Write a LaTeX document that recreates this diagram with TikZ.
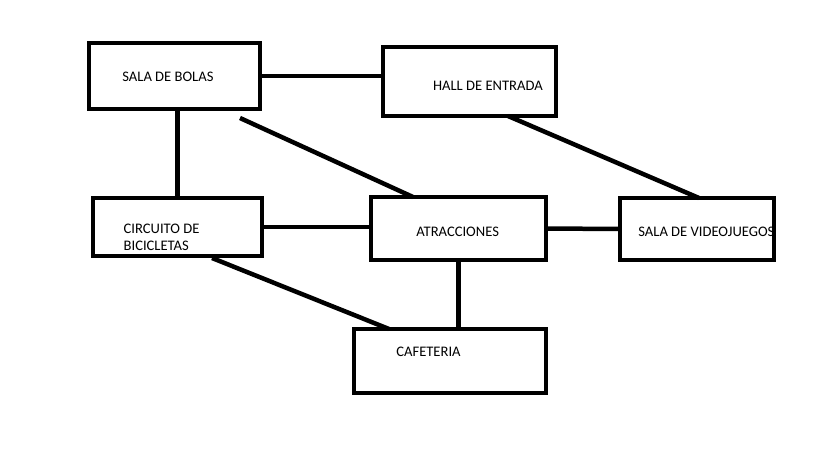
\documentclass[tikz,border=0pt]{standalone}
\usepackage{fontspec}
\setmainfont{Carlito}
\usetikzlibrary{calc}

\begin{document}
\begin{tikzpicture}[
  x=0.02cm,y=-0.02cm,
  font=\fontsize{8.3}{9.6}\selectfont,
  room/.style 2 args={draw,line width=0.09cm,inner sep=0pt,outer sep=0pt,minimum width=#1*0.02cm,minimum height=#2*0.02cm},
  lbl/.style={anchor=west,inner sep=0pt,align=left},
  link/.style={line width=0.09cm}
]
\useasboundingbox (0,0) rectangle (819,460);
% texts first, the box borders lie over them
\node[lbl] (bolas-t) at (122,76.7) {SALA DE BOLAS};
\node[lbl] (hall-t) at (432.7,86) {HALL DE ENTRADA};
\node[lbl] (circ-t) at (123.3,237.4) {CIRCUITO DE\\BICICLETAS};
\node[lbl] (atr-t) at (416,231.7) {ATRACCIONES};
\node[lbl] (video-t) at (638,232) {SALA DE VIDEOJUEGOS};
\node[lbl] (cafe-t) at (396,351.7) {CAFETERIA};
% boxes
\node[room={171}{66}] (bolas) at (174.5,76) {};
\node[room={173}{69}] (hall) at (469.5,81.5) {};
\node[room={169}{58}] (circ) at (177.5,227) {};
\node[room={175}{63}] (atr) at (458.5,228.5) {};
\node[room={154}{62}] (video) at (697,229) {};
\node[room={192}{64}] (cafe) at (450,361) {};
% links
\draw[link] (bolas.east) -- (bolas.east -| hall.west);
\draw[link] (circ.north |- bolas.south) -- (circ.north);
\draw[link] ($(bolas.south)+(65.5,9)$) -- ($(atr.north)+(-45.5,0)$);
\draw[link] ($(hall.south)+(38.5,0)$) -- ($(video.north)+(2,0)$);
\draw[link] (circ.east) -- (circ.east -| atr.west);
\draw[link] (atr.east) -- (video.west);
\draw[link] ($(circ.south)+(34.5,2)$) -- ($(cafe.north)+(-61,0)$);
\draw[link] (atr.south) -- ($(atr.south |- cafe.north)+(0,2)$);
\end{tikzpicture}
\end{document}
